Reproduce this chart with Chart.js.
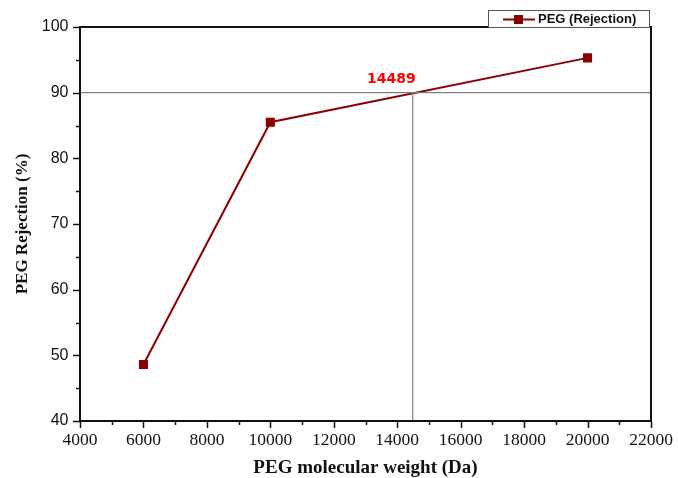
<!DOCTYPE html>
<html>
<head>
<meta charset="utf-8">
<script src="https://cdn.jsdelivr.net/npm/chart.js@4.4.1/dist/chart.umd.min.js"></script>
<style>
  html, body { margin: 0; padding: 0; background: #ffffff; }
  #wrap { width: 678px; height: 478px; }
</style>
</head>
<body>
<div id="wrap"><canvas id="chart" width="678" height="478"></canvas></div>
<script>
// data
const molWeights = [6000, 10000, 20000];
const rejection = [48.6, 85.5, 95.3];
const cutoffWeight = 14489;
const cutoffRejection = 90;
const xTicks = [4000, 6000, 8000, 10000, 12000, 14000, 16000, 18000, 20000, 22000];
const yTicks = [40, 50, 60, 70, 80, 90, 100];

const LINE_RED = '#8b0000';
const GUIDE = '#808080';

// box, ticks (major + minor), legend and cutoff label
const framePlugin = {
    id: 'frame',
    afterDraw(chart) {
        const ctx = chart.ctx;
        const a = chart.chartArea;
        const xs = chart.scales.x;
        const ys = chart.scales.y;
        ctx.save();

        // minor + major ticks
        ctx.strokeStyle = '#111';
        ctx.lineWidth = 1.5;
        for (let v = 4000; v <= 22000; v += 1000) {
            const px = Math.round(xs.getPixelForValue(v)) + 0.5;
            const len = v % 2000 === 0 ? 7 : 4;
            ctx.beginPath();
            ctx.moveTo(px, a.bottom);
            ctx.lineTo(px, a.bottom + len);
            ctx.stroke();
        }
        for (let v = 40; v <= 100; v += 5) {
            const py = Math.round(ys.getPixelForValue(v)) + 0.5;
            const len = v % 10 === 0 ? 7 : 4;
            ctx.beginPath();
            ctx.moveTo(a.left, py);
            ctx.lineTo(a.left - len, py);
            ctx.stroke();
        }

        // frame
        ctx.strokeStyle = '#111';
        ctx.lineWidth = 2;
        ctx.strokeRect(a.left, a.top, a.right - a.left, a.bottom - a.top);

        // cutoff label
        ctx.fillStyle = '#ff0000';
        ctx.font = 'bold 14px "DejaVu Sans", Verdana, sans-serif';
        ctx.textAlign = 'right';
        ctx.textBaseline = 'alphabetic';
        ctx.fillText(String(cutoffWeight), xs.getPixelForValue(cutoffWeight) + 3,
            ys.getPixelForValue(cutoffRejection) - 10);

        // legend box
        const bx = 488, by = 10, bw = 161, bh = 17;
        ctx.fillStyle = '#ffffff';
        ctx.fillRect(bx, by, bw, bh);
        ctx.strokeStyle = '#555';
        ctx.lineWidth = 1;
        ctx.strokeRect(bx + 0.5, by + 0.5, bw, bh);
        const cy = by + bh / 2 + 1;
        ctx.strokeStyle = LINE_RED;
        ctx.lineWidth = 2;
        ctx.beginPath();
        ctx.moveTo(503, cy);
        ctx.lineTo(535, cy);
        ctx.stroke();
        ctx.fillStyle = LINE_RED;
        ctx.fillRect(514, cy - 4.5, 9, 9);
        ctx.fillStyle = '#111';
        ctx.font = 'bold 13px "Liberation Sans", Arial, sans-serif';
        ctx.textAlign = 'left';
        ctx.textBaseline = 'middle';
        ctx.fillText('PEG (Rejection)', 538, cy);

        ctx.restore();
    }
};

const points = molWeights.map((w, i) => ({ x: w, y: rejection[i] }));

new Chart(document.getElementById('chart'), {
    type: 'scatter',
    data: {
        datasets: [
            {
                label: 'cutoff-h',
                data: [{ x: xTicks[0], y: cutoffRejection }, { x: xTicks[xTicks.length - 1], y: cutoffRejection }],
                showLine: true,
                borderColor: GUIDE,
                borderWidth: 1.2,
                pointRadius: 0
            },
            {
                label: 'cutoff-v',
                data: [{ x: cutoffWeight, y: cutoffRejection }, { x: cutoffWeight, y: yTicks[0] }],
                showLine: true,
                borderColor: GUIDE,
                borderWidth: 1.2,
                pointRadius: 0
            },
            {
                label: 'PEG (Rejection)',
                data: points,
                showLine: true,
                borderColor: LINE_RED,
                backgroundColor: LINE_RED,
                borderWidth: 2,
                pointStyle: 'rect',
                pointRadius: 5,
                pointHoverRadius: 5
            }
        ]
    },
    options: {
        responsive: false,
        animation: false,
        layout: { padding: { top: 27, right: 27, left: 12, bottom: 0 } },
        plugins: {
            legend: { display: false },
            tooltip: { enabled: false }
        },
        scales: {
            x: {
                type: 'linear',
                min: 4000,
                max: 22000,
                afterBuildTicks: axis => { axis.ticks = xTicks.map(v => ({ value: v })); },
                afterFit: axis => {
                    axis.height = 57;
                    axis.paddingLeft = 0;
                    axis.paddingRight = 0;
                },
                grid: { drawOnChartArea: false, drawTicks: false },
                border: { display: false },
                ticks: {
                    padding: 9,
                    color: '#111',
                    maxRotation: 0,
                    font: { family: '"Liberation Serif", "Times New Roman", serif', size: 17.5 },
                    callback: v => String(v)
                },
                title: {
                    display: true,
                    text: 'PEG molecular weight (Da)',
                    color: '#111',
                    padding: 0,
                    font: { family: '"Liberation Serif", "Times New Roman", serif', size: 19, weight: 'bold', lineHeight: 1 }
                }
            },
            y: {
                type: 'linear',
                min: 40,
                max: 100,
                afterBuildTicks: axis => { axis.ticks = yTicks.map(v => ({ value: v })); },
                afterFit: axis => {
                    axis.width = 68;
                    axis.paddingTop = 0;
                    axis.paddingBottom = 0;
                },
                grid: { drawOnChartArea: false, drawTicks: false },
                border: { display: false },
                ticks: {
                    padding: 11.5,
                    color: '#111',
                    font: { family: '"Liberation Sans", Arial, sans-serif', size: 16 }
                },
                title: {
                    display: true,
                    text: 'PEG Rejection (%)',
                    color: '#111',
                    padding: 0,
                    font: { family: '"Liberation Serif", "Times New Roman", serif', size: 17, weight: 'bold' }
                }
            }
        }
    },
    plugins: [framePlugin]
});
</script>
</body>
</html>
